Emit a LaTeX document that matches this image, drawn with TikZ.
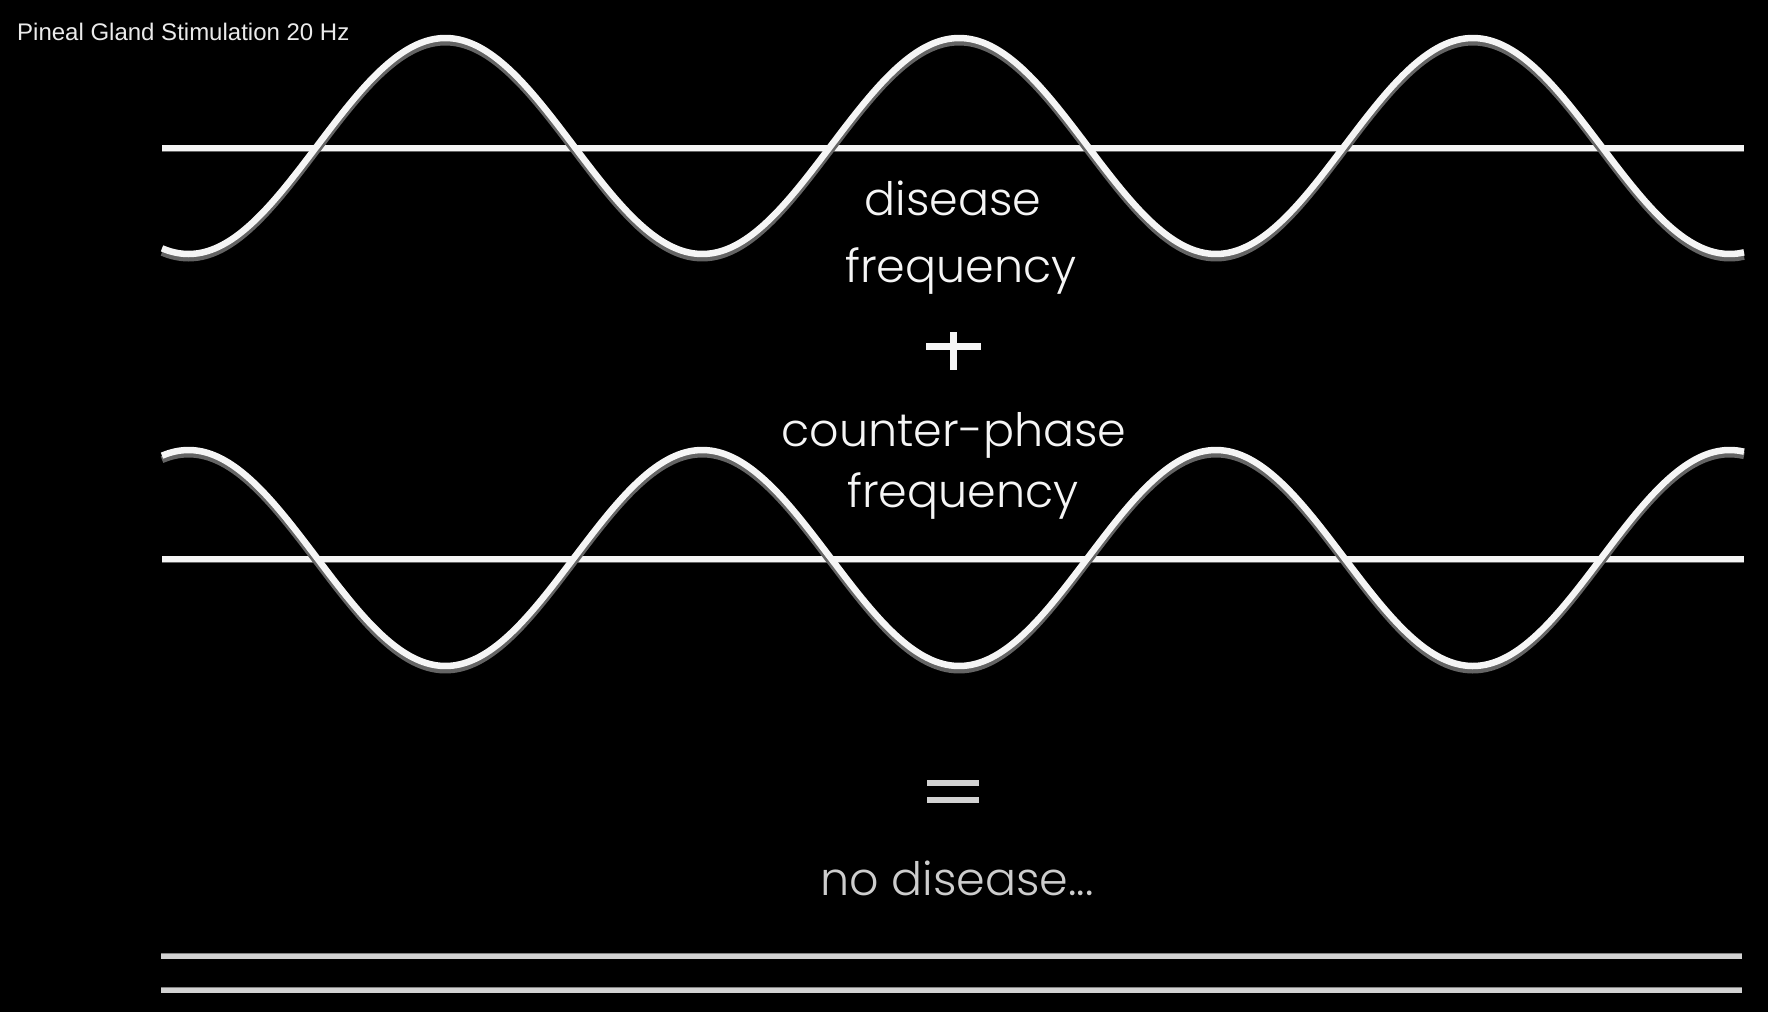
\documentclass[tikz,border=0pt]{standalone}
\usepackage{fontspec}
\setmainfont{Liberation Sans}
\newfontfamily\wavefont{Poppins Light}
\usetikzlibrary{positioning}
\definecolor{tubewhite}{RGB}{245,245,245}
\definecolor{tubeshade}{RGB}{100,100,100}
\definecolor{titlegray}{RGB}{235,235,235}
\definecolor{fadegray}{RGB}{205,205,205}

\tikzset{
  tube/.style={line width=6.5pt,tubewhite,line cap=butt},
  tubeshadow/.style={line width=7pt,tubeshade,yshift=-4pt,line cap=butt},
  flatline/.style={line width=5pt,fadegray!90,line cap=butt},
  flatshadow/.style={line width=6pt,tubeshade!80,yshift=-4pt,line cap=butt},
  bigtext/.style={text=tubewhite,inner sep=0pt,font=\wavefont\fontsize{46}{56}\selectfont},
  titletext/.style={text=titlegray,inner sep=0pt,font=\fontsize{24}{28}\selectfont}
}

\begin{document}
\begin{tikzpicture}[x=1pt,y=-1pt]
  \fill[black] (0,0) rectangle (1768,1012);
  \useasboundingbox (0,0) rectangle (1768,1012);
  % titel
  \node[titletext,anchor=base west] (title) at (17,40) {Pineal Gland Stimulation 20 Hz};
  % bovenste golf
  \coordinate (axisA-l) at (162,148);
  \coordinate (axisA-r) at (1744,148);
  \draw[tubeshadow] (axisA-l) -- (axisA-r);
  \draw[tube] (axisA-l) -- (axisA-r);
  \draw[tubeshadow] plot[domain=162:1744,samples=240,smooth]
    (\x,{146-108*sin(((\x-317)/513.7)*360)});
  \draw[tube] plot[domain=162:1744,samples=240,smooth]
    (\x,{146-108*sin(((\x-317)/513.7)*360)});
  % teksten
  \node[bigtext,anchor=base] (disease) at (953,215) {disease};
  \node[bigtext,anchor=base] (freqA) at (961,282) {frequency};
  % plus
  \coordinate (plus-l) at (926,346);
  \coordinate (plus-r) at (981,346);
  \coordinate (plus-t) at (953,332);
  \coordinate (plus-b) at (953,370);
  \draw[tubeshadow,line width=7pt] (plus-l) -- (plus-r) (plus-t) -- (plus-b);
  \draw[tube,line width=7pt] (plus-l) -- (plus-r) (plus-t) -- (plus-b);
  \node[bigtext,anchor=base] (counter) at (954,446) {counter-phase};
  \node[bigtext,anchor=base] (freqB) at (963,507) {frequency};
  % onderste golf
  \coordinate (axisB-l) at (162,559);
  \coordinate (axisB-r) at (1744,559);
  \draw[tubeshadow] (axisB-l) -- (axisB-r);
  \draw[tube] (axisB-l) -- (axisB-r);
  \draw[tubeshadow] plot[domain=162:1744,samples=240,smooth]
    (\x,{558+108*sin(((\x-317)/513.7)*360)});
  \draw[tube] plot[domain=162:1744,samples=240,smooth]
    (\x,{558+108*sin(((\x-317)/513.7)*360)});
  % is-gelijk
  \coordinate (eqA-l) at (927,783);
  \coordinate (eqA-r) at (979,783);
  \coordinate (eqB-l) at (927,800);
  \coordinate (eqB-r) at (979,800);
  \draw[flatshadow,line width=6pt,yshift=1pt] (eqA-l) -- (eqA-r) (eqB-l) -- (eqB-r);
  \draw[flatline,line width=6pt] (eqA-l) -- (eqA-r) (eqB-l) -- (eqB-r);
  \node[bigtext,text=fadegray,anchor=base] (nodisease) at (957,895) {no disease...};
  % vlakke lijnen
  \coordinate (flatA-l) at (161,956);
  \coordinate (flatA-r) at (1742,956);
  \coordinate (flatB-l) at (161,990);
  \coordinate (flatB-r) at (1742,990);
  \draw[flatshadow] (flatA-l) -- (flatA-r);
  \draw[flatline] (flatA-l) -- (flatA-r);
  \draw[flatshadow] (flatB-l) -- (flatB-r);
  \draw[flatline] (flatB-l) -- (flatB-r);
\end{tikzpicture}
\end{document}
